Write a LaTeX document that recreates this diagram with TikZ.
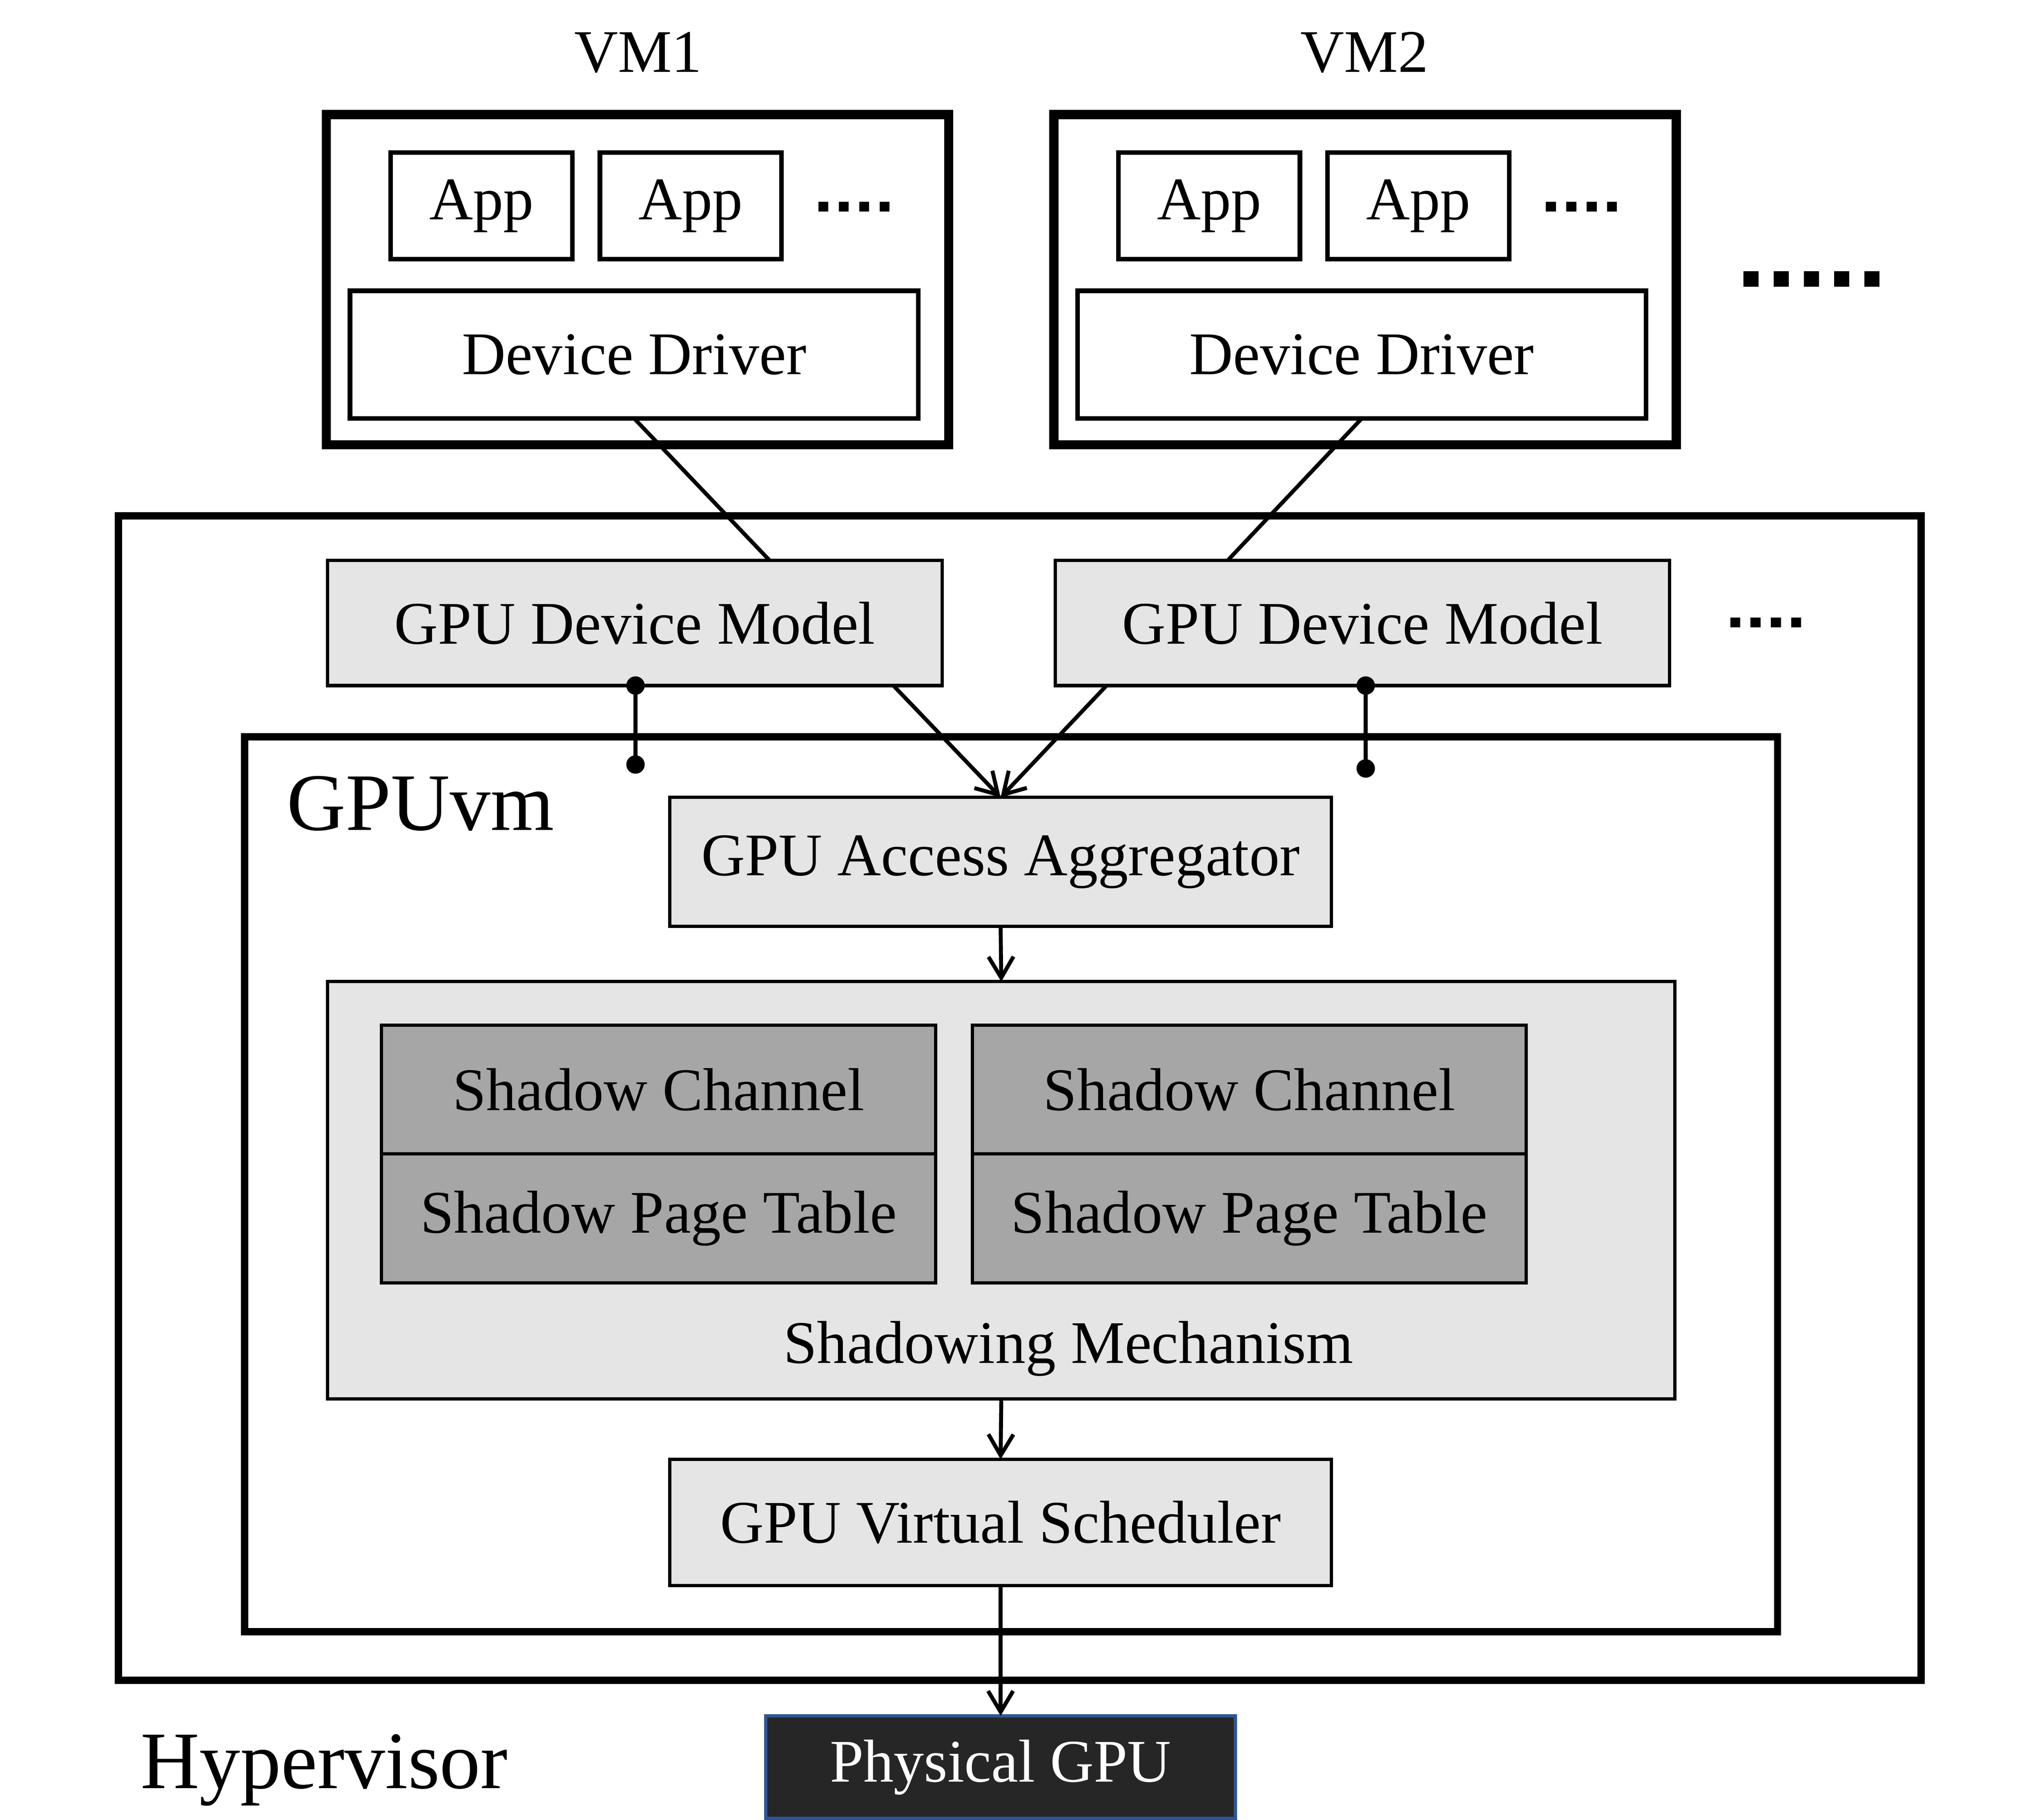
\documentclass[tikz,border=0pt]{standalone}
\usepackage{fontspec}
\setmainfont{Liberation Serif}
\usetikzlibrary{arrows.meta,calc}
\definecolor{lightg}{HTML}{E5E5E5}
\definecolor{darkg}{HTML}{A6A6A6}
\definecolor{physfill}{HTML}{262626}
\definecolor{physline}{HTML}{2F5597}
\tikzset{
  lbl/.style={inner sep=0pt, outer sep=0pt, font=\fontsize{46}{50}\selectfont},
  biglbl/.style={inner sep=0pt, outer sep=0pt, font=\fontsize{62}{66}\selectfont},
  basebox/.style={draw, inner sep=0pt, outer sep=0pt, font=\fontsize{46}{50}\selectfont, align=center},
  vmbox/.style={draw, line width=7pt, inner sep=0pt, outer sep=0pt},
  appbox/.style={basebox, line width=3.5pt},
  gbox/.style={basebox, fill=lightg, line width=2.5pt},
  sbox/.style={basebox, fill=darkg, line width=2.5pt},
  physbox/.style={basebox, fill=physfill, draw=physline, text=white, line width=2.5pt},
  frame/.style={draw, line width=5.5pt, inner sep=0pt, outer sep=0pt},
  conn/.style={line width=3pt},
  arr/.style={conn, -{Straight Barb[length=16pt,width=19pt]}},
}
\begin{document}
\begin{tikzpicture}[x=1pt,y=-1pt]
\useasboundingbox (0,0) rectangle (1552,1383);

% VM labels
\node[lbl] (vm1lbl) at (485,40) {VM1};
\node[lbl] (vm2lbl) at (1037,40) {VM2};

% VM boxes
\node[vmbox, minimum width=473pt, minimum height=251pt] (vm1) at (484.5,212.5) {};
\node[vmbox, minimum width=473pt, minimum height=251pt] (vm2) at (1037.5,212.5) {};

\node[appbox, minimum width=138pt, minimum height=81pt] (app1) at (366,156.5) {App};
\node[appbox, minimum width=138pt, minimum height=81pt] (app2) at (525,156.5) {App};
\node[appbox, minimum width=138pt, minimum height=81pt] (app3) at (919,156.5) {App};
\node[appbox, minimum width=138pt, minimum height=81pt] (app4) at (1078,156.5) {App};

\node[appbox, minimum width=432pt, minimum height=97pt] (dd1) at (482,269.5) {Device Driver};
\node[appbox, minimum width=432pt, minimum height=97pt] (dd2) at (1035,269.5) {Device Driver};

% dots
\foreach \sx/\sy in {622/157, 1175/157, 1315/473, 1180/893}
  \foreach \i in {0,1,2,3}
    \fill (\sx+\i*15.5, \sy-3.75) rectangle ++(7.5,7.5);
\foreach \i in {0,1,2,3,4}
  \fill (1325+\i*23, 212-5.75) rectangle ++(11.5,11.5);

% Hypervisor frame
\node[frame, minimum width=1370pt, minimum height=885pt] (hyp) at (775,834.5) {};
\node[biglbl, anchor=base west] (hyplbl) at (107,1359) {Hypervisor};

% GPU device models
\node[gbox, minimum width=467pt, minimum height=95pt] (gdm1) at (482.5,473.5) {GPU Device Model};
\node[gbox, minimum width=467pt, minimum height=95pt] (gdm2) at (1035.5,473.5) {GPU Device Model};

% GPUvm frame
\node[frame, minimum width=1165pt, minimum height=680pt] (gpuvm) at (768.5,900) {};
\node[biglbl, anchor=base west] (gpuvmlbl) at (218,631) {GPUvm};

% Aggregator
\node[gbox, minimum width=503pt, minimum height=98pt] (gaa) at (760.5,655) {GPU Access Aggregator};

% Shadowing mechanism
\node[gbox, minimum width=1024pt, minimum height=317pt] (shadow) at (761,904.5) {};
\node[lbl] (shadowlbl) at (812,1025) {Shadowing Mechanism};
\node[sbox, minimum width=421pt, minimum height=98pt] (sc1) at (500.5,828) {Shadow Channel};
\node[sbox, minimum width=421pt, minimum height=98pt] (spt1) at (500.5,926) {Shadow Page Table};
\node[sbox, minimum width=421pt, minimum height=98pt] (sc2) at (949.5,828) {Shadow Channel};
\node[sbox, minimum width=421pt, minimum height=98pt] (spt2) at (949.5,926) {Shadow Page Table};

% Scheduler
\node[gbox, minimum width=503pt, minimum height=96pt] (gvs) at (760.5,1157) {GPU Virtual Scheduler};

% Physical GPU
\node[physbox, minimum width=357pt, minimum height=78pt] (pgpu) at (760.5,1343) {Physical GPU};

% connectors
\draw[conn] (dd1.south) -- ([xshift=102.5pt]gdm1.north);
\draw[conn] (dd2.south) -- ([xshift=-102.5pt]gdm2.north);
\draw[arr] ([xshift=196.5pt]gdm1.south) -- (gaa.north);
\draw[arr] ([xshift=-194.5pt]gdm2.south) -- (gaa.north);
\draw[arr] (gaa.south) -- (shadow.north);
\draw[arr] (shadow.south) -- (gvs.north);
\draw[arr] (gvs.south) -- (pgpu.north);

\coordinate (d1) at (483,581);
\coordinate (d2) at (1038,584);
\draw[conn] (gdm1.south -| d1) -- (d1);
\draw[conn] (gdm2.south -| d2) -- (d2);
\fill (gdm1.south -| d1) circle (7pt);
\fill (d1) circle (7pt);
\fill (gdm2.south -| d2) circle (7pt);
\fill (d2) circle (7pt);
\end{tikzpicture}
\end{document}
